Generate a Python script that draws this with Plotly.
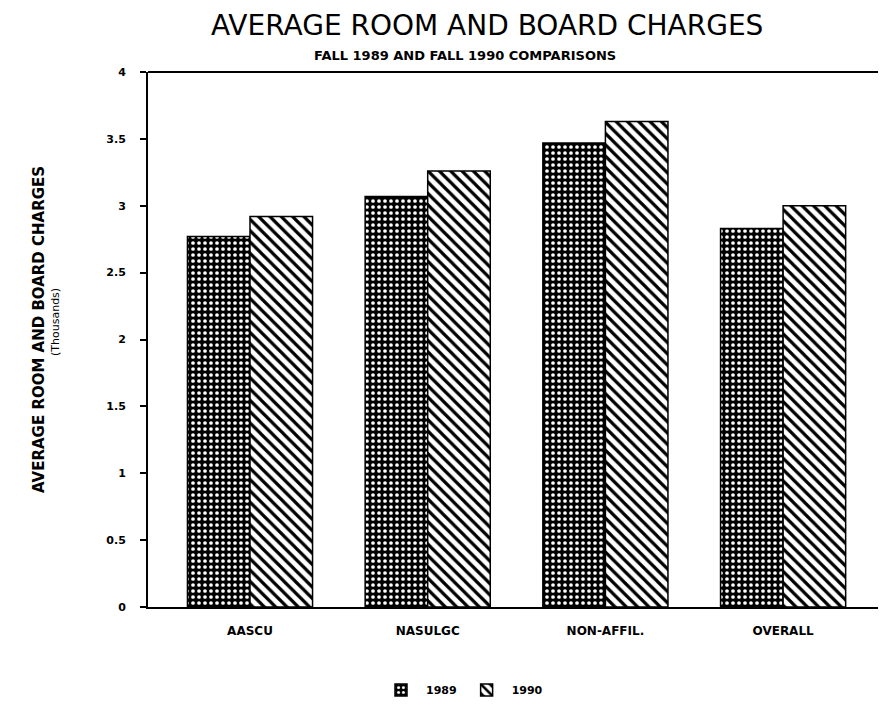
import plotly.graph_objects as go

categories = ["AASCU", "NASULGC", "NON-AFFIL.", "OVERALL"]
values_1989 = [2.77, 3.07, 3.47, 2.83]
values_1990 = [2.92, 3.26, 3.63, 3.00]
y_ticks = [0, 0.5, 1, 1.5, 2, 2.5, 3, 3.5, 4]

W, H = 878, 697
L, T, B = 140, 64, 98
PW, PH = W - L, H - T - B

def px(x):
    return (x - 8 - L) / PW

def py(y):
    return 1 - (y - 8 - T) / PH

fig = go.Figure()
fig.add_trace(go.Bar(
    x=categories, y=values_1989, name="1989",
    marker=dict(color="black", line=dict(color="black", width=1.5),
                pattern=dict(shape=".", fgcolor="white", bgcolor="black",
                             size=6, solidity=0.3, fillmode="replace")),
))
fig.add_trace(go.Bar(
    x=categories, y=values_1990, name="1990",
    marker=dict(color="white", line=dict(color="black", width=1.5),
                pattern=dict(shape="\\", fgcolor="black", bgcolor="white",
                             size=8, solidity=0.4, fillmode="replace")),
))

fig.update_layout(
    width=W, height=H,
    margin=dict(l=L, r=0, t=T, b=B),
    paper_bgcolor="white", plot_bgcolor="white",
    barmode="group", bargap=0.296, bargroupgap=0,
    font=dict(family="DejaVu Sans, Liberation Sans, sans-serif", color="black"),
    showlegend=True,
    legend=dict(orientation="h", x=px(462), y=py(690), xanchor="center", yanchor="middle",
                font=dict(size=11, weight="bold"),
                itemwidth=40, traceorder="normal"),
)
fig.update_xaxes(
    range=[-0.574, 3.579], showline=True, linecolor="black", linewidth=2,
    ticks="", showgrid=False, ticklabelstandoff=12,
    tickfont=dict(size=12, weight="bold"),
)
fig.update_yaxes(
    range=[0, 4], tickvals=y_ticks, ticktext=[f"{v:g}" for v in y_ticks],
    showline=True, linecolor="black", linewidth=2, ticks="outside",
    ticklen=6, tickwidth=2, tickcolor="black", showgrid=False, zeroline=False,
    ticklabelstandoff=12,
    tickfont=dict(size=11, weight="bold"),
)
fig.add_shape(type="line", xref="paper", yref="paper", x0=0, x1=1, y0=1, y1=1,
              line=dict(color="black", width=2))

fig.add_annotation(text="AVERAGE ROOM AND BOARD CHARGES", xref="paper", yref="paper",
                   x=px(487), y=py(25), xanchor="center", yanchor="middle",
                   showarrow=False, font=dict(size=28))
fig.add_annotation(text="<b>FALL 1989 AND FALL 1990 COMPARISONS</b>", xref="paper", yref="paper",
                   x=px(465), y=py(55), xanchor="center", yanchor="middle",
                   showarrow=False, font=dict(size=13))
fig.add_annotation(text="<b>AVERAGE ROOM AND BOARD CHARGES</b>", xref="paper", yref="paper",
                   x=px(39), y=py(330), xanchor="center", yanchor="middle",
                   textangle=-90, showarrow=False, font=dict(size=15))
fig.add_annotation(text="(Thousands)", xref="paper", yref="paper",
                   x=px(55), y=py(322), xanchor="center", yanchor="middle",
                   textangle=-90, showarrow=False, font=dict(size=11))

fig.write_html("out.html")
